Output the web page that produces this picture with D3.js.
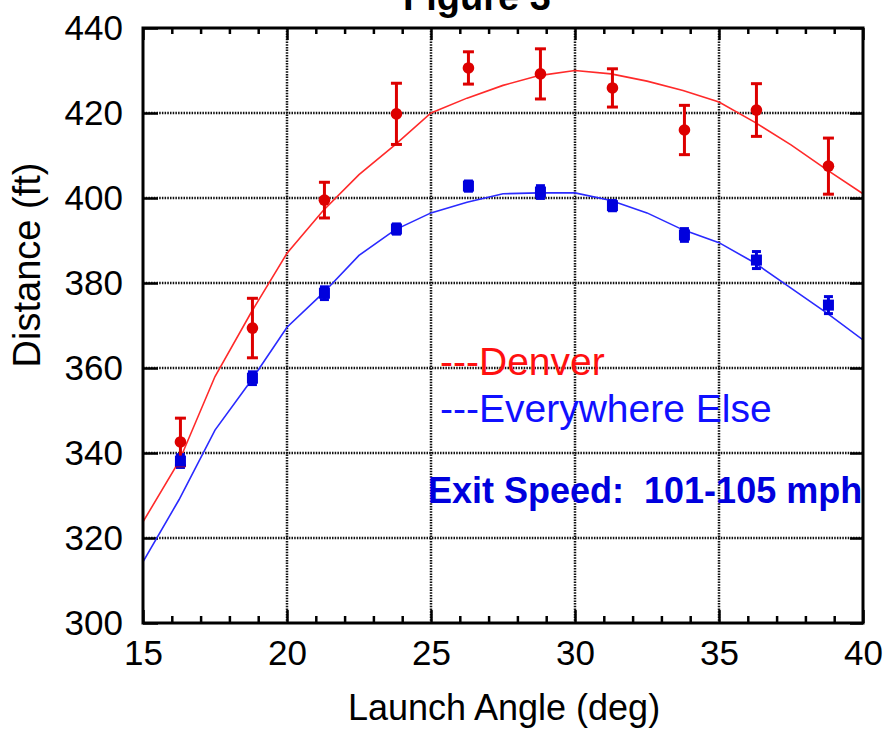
<!DOCTYPE html>
<html>
<head>
<meta charset="utf-8">
<script src="https://cdn.jsdelivr.net/npm/d3@7"></script>
<style>
  body { margin: 0; background: #fff; }
  text { font-family: "Liberation Sans", Arial, sans-serif; }
</style>
</head>
<body>
<div id="viz"></div>
<script>
// measured points (launch angle bins)
var angles = [16.3, 18.8, 21.3, 23.8, 26.3, 28.8, 31.3, 33.8, 36.3, 38.8];
var denverDist = [342.6, 369.4, 399.5, 419.8, 430.6, 429.2, 425.9, 416.0, 420.7, 407.5];
var denverErr = [5.6, 7.0, 4.2, 7.2, 3.8, 5.9, 4.5, 5.8, 6.2, 6.6];
var elseDist = [338.1, 357.6, 377.6, 392.7, 402.8, 401.4, 398.2, 391.3, 385.4, 374.8];
var elseErr = [1.5, 1.5, 1.5, 1.2, 1.2, 1.5, 1.2, 1.5, 2.0, 2.0];

// fitted curves
var curveAngles = [15, 16.25, 17.5, 18.75, 20, 21.25, 22.5, 23.75, 25, 26.25, 27.5,
    28.75, 30, 31.25, 32.5, 33.75, 35, 36.25, 37.5, 38.75, 40];
var denverFit = [323.8, 338, 358, 373, 387, 397, 405.5, 412.5, 420, 423.5, 426.5,
    428.8, 430, 429.2, 427.5, 425.3, 422.6, 417.8, 412.5, 406.6, 401];
var elseFit = [314.4, 329, 345.4, 357, 369.6, 377.6, 386.5, 392.5, 396.5, 399, 401,
    401.2, 401.2, 399.4, 396.5, 392.5, 389.5, 384.7, 378.8, 372.9, 366.6];

var xMajor = [15, 20, 25, 30, 35, 40];
var yMajor = [300, 320, 340, 360, 380, 400, 420, 440];

var margin = {top: 28, right: 25, bottom: 111, left: 143},
    width = 888 - margin.left - margin.right,
    height = 734 - margin.top - margin.bottom;

var svgRoot = d3.select("#viz")
    .append("svg")
    .attr("width", 888)
    .attr("height", 734);

var svg = svgRoot.append("g")
    .attr("transform", "translate(" + margin.left + "," + margin.top + ")");

var x = d3.scaleLinear().domain([15, 40]).range([0, width]);
var y = d3.scaleLinear().domain([300, 440]).range([height, 0]);

var xMinor = d3.range(16, 40).filter(function (d) { return d % 5 !== 0; });

// dotted grid
svg.append("g")
    .selectAll("line")
    .data(xMajor.slice(1, -1))
    .enter().append("line")
    .attr("x1", function (d) { return x(d); })
    .attr("x2", function (d) { return x(d); })
    .attr("y1", 0)
    .attr("y2", height)
    .attr("stroke", "#111")
    .attr("stroke-width", 2.5)
    .attr("stroke-dasharray", "1.5,1.2");

svg.append("g")
    .selectAll("line")
    .data(yMajor.slice(1, -1))
    .enter().append("line")
    .attr("x1", 0)
    .attr("x2", width)
    .attr("y1", function (d) { return y(d); })
    .attr("y2", function (d) { return y(d); })
    .attr("stroke", "#111")
    .attr("stroke-width", 2.5)
    .attr("stroke-dasharray", "1.5,1.2");

// axes with inside ticks
function styleAxis(g) {
    g.select(".domain").remove();
    g.selectAll(".tick line").attr("stroke", "#000").attr("stroke-width", 2.5);
    g.selectAll(".tick text")
        .attr("fill", "#000")
        .style("font-size", "35px")
        .style("font-family", "'Liberation Sans', Arial, sans-serif");
}

svg.append("g")
    .attr("transform", "translate(0," + height + ")")
    .call(d3.axisBottom(x).tickValues(xMajor).tickSizeInner(-13).tickSizeOuter(0)
        .tickPadding(17).tickFormat(d3.format("d")))
    .call(styleAxis);

svg.append("g")
    .attr("transform", "translate(0," + height + ")")
    .call(d3.axisBottom(x).tickValues(xMinor).tickSizeInner(-7).tickSizeOuter(0).tickFormat(""))
    .call(styleAxis);

svg.append("g")
    .call(d3.axisTop(x).tickValues(xMajor).tickSizeInner(-12).tickSizeOuter(0).tickFormat(""))
    .call(styleAxis);

svg.append("g")
    .call(d3.axisTop(x).tickValues(xMinor).tickSizeInner(-6).tickSizeOuter(0).tickFormat(""))
    .call(styleAxis);

svg.append("g")
    .call(d3.axisLeft(y).tickValues(yMajor).tickSizeInner(-15).tickSizeOuter(0)
        .tickPadding(20).tickFormat(d3.format("d")))
    .call(styleAxis);

svg.append("g")
    .attr("transform", "translate(" + width + ",0)")
    .call(d3.axisRight(y).tickValues(yMajor).tickSizeInner(-13).tickSizeOuter(0).tickFormat(""))
    .call(styleAxis);

// clip for the fitted curves
svg.append("clipPath")
    .attr("id", "plotclip")
    .append("rect")
    .attr("width", width)
    .attr("height", height);

var line = d3.line()
    .x(function (d) { return x(d[0]); })
    .y(function (d) { return y(d[1]); });

svg.append("path")
    .datum(d3.zip(curveAngles, denverFit))
    .attr("clip-path", "url(#plotclip)")
    .attr("fill", "none")
    .attr("stroke", "#ff2a2a")
    .attr("stroke-width", 1.6)
    .attr("d", line);

svg.append("path")
    .datum(d3.zip(curveAngles, elseFit))
    .attr("clip-path", "url(#plotclip)")
    .attr("fill", "none")
    .attr("stroke", "#2a2aff")
    .attr("stroke-width", 1.6)
    .attr("d", line);

// error bars
function drawErrors(vals, errs, color, cap) {
    var g = svg.append("g").attr("stroke", color).attr("stroke-width", 3);
    angles.forEach(function (a, i) {
        var top = y(vals[i] + errs[i]), bot = y(vals[i] - errs[i]);
        g.append("line").attr("x1", x(a)).attr("x2", x(a)).attr("y1", top).attr("y2", bot);
        g.append("line").attr("x1", x(a) - cap / 2).attr("x2", x(a) + cap / 2)
            .attr("y1", top).attr("y2", top);
        g.append("line").attr("x1", x(a) - cap / 2).attr("x2", x(a) + cap / 2)
            .attr("y1", bot).attr("y2", bot);
    });
}

drawErrors(elseDist, elseErr, "#0000dd", 9);
drawErrors(denverDist, denverErr, "#dd0000", 11);

svg.append("g")
    .selectAll("rect")
    .data(angles)
    .enter().append("rect")
    .attr("x", function (d) { return x(d) - 5.5; })
    .attr("y", function (d, i) { return y(elseDist[i]) - 5.5; })
    .attr("width", 11)
    .attr("height", 11)
    .attr("fill", "#0000dd");

svg.append("g")
    .selectAll("circle")
    .data(angles)
    .enter().append("circle")
    .attr("cx", function (d) { return x(d); })
    .attr("cy", function (d, i) { return y(denverDist[i]); })
    .attr("r", 5.8)
    .attr("fill", "#dd0000");

// frame
svg.append("rect")
    .attr("width", width)
    .attr("height", height)
    .attr("fill", "none")
    .attr("stroke", "#000")
    .attr("stroke-width", 3);

// legend and annotation
svgRoot.append("text")
    .attr("x", 440).attr("y", 375)
    .attr("fill", "#ff1010")
    .style("font-size", "39px")
    .text("---Denver");

svgRoot.append("text")
    .attr("x", 440).attr("y", 422)
    .attr("fill", "#1010ff")
    .style("font-size", "39px")
    .text("---Everywhere Else");

svgRoot.append("text")
    .attr("x", 428).attr("y", 503)
    .attr("fill", "#0000dd")
    .style("font-size", "36px")
    .style("font-weight", "bold")
    .style("white-space", "pre")
    .text("Exit Speed:  101-105 mph");

// titles (title is cut at the top edge, as in the original figure)
svgRoot.append("text")
    .attr("x", 477).attr("y", 10)
    .attr("text-anchor", "middle")
    .style("font-size", "38px")
    .style("font-weight", "bold")
    .text("Figure 3");

svgRoot.append("text")
    .attr("x", 504).attr("y", 720)
    .attr("text-anchor", "middle")
    .style("font-size", "36px")
    .text("Launch Angle (deg)");

svgRoot.append("text")
    .attr("transform", "translate(40,265) rotate(-90)")
    .attr("text-anchor", "middle")
    .style("font-size", "38px")
    .text("Distance (ft)");
</script>
</body>
</html>
